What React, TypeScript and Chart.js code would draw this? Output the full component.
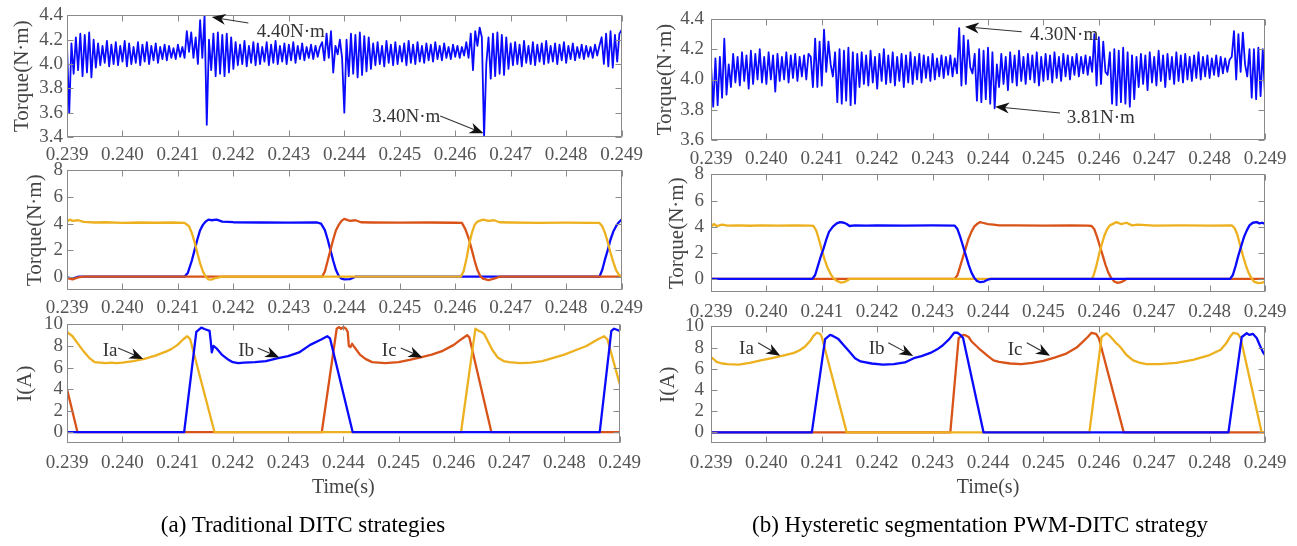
import React, { useEffect, useRef } from 'react';
import { Chart, registerables } from 'chart.js';

Chart.register(...registerables);

// ---------------- data ----------------
const xTicks = [0.239, 0.24, 0.241, 0.242, 0.243, 0.244, 0.245, 0.246, 0.247, 0.248, 0.249];
const torqueTicksA = [3.4, 3.6, 3.8, 4.0, 4.2, 4.4];
const torqueTicksB = [3.6, 3.8, 4.0, 4.2, 4.4];
const phaseTicks = [0, 2, 4, 6, 8];
const currentTicks = [0, 2, 4, 6, 8, 10];

// total torque samples (one every rippleStep seconds from rippleStart)
const rippleStart = 0.239;
const rippleStep = 0.00004;

const rippleA = [
  4.15, 3.60, 4.17, 3.92, 4.22, 3.95, 4.25, 3.90, 4.24, 3.93, 4.26, 3.89, 4.20, 3.97,
  4.17, 3.99, 4.15, 4.01, 4.19, 3.98, 4.16, 4.00, 4.18, 3.99,
  4.15, 4.02, 4.19, 3.98, 4.17, 4.00, 4.14, 4.01, 4.18, 3.99,
  4.16, 4.02, 4.18, 4.00, 4.15, 4.03, 4.17, 4.01, 4.14, 4.04,
  4.16, 4.03, 4.15, 4.05, 4.13, 4.04, 4.16, 4.06, 4.14,
  4.05, 4.27, 4.10, 4.26, 4.05, 4.22, 4.00, 4.36, 4.05, 4.40, 3.50,
  4.20, 3.95, 4.25, 3.90, 4.26, 3.92, 4.24, 3.90, 4.25, 3.93, 4.22, 3.96,
  4.18, 3.99, 4.16, 4.00, 4.19, 3.98, 4.15, 4.01, 4.18, 3.99,
  4.17, 4.00, 4.14, 4.02, 4.18, 3.99, 4.16, 4.01, 4.19, 4.00,
  4.15, 4.02, 4.17, 4.00, 4.16, 4.03, 4.18, 4.01, 4.15, 4.04,
  4.17, 4.03, 4.14, 4.05, 4.16, 4.04, 4.15, 4.06, 4.14,
  4.18, 4.03, 4.25, 4.05, 4.27, 3.93, 4.15, 4.08, 4.20, 4.05, 3.60, 4.20, 3.90, 4.25, 3.92, 4.24, 3.89, 4.26, 3.91, 4.23, 3.94, 4.22, 3.96,
  4.17, 3.99, 4.18, 4.00, 4.15, 3.98, 4.19, 4.01, 4.16, 3.99,
  4.18, 4.00, 4.15, 4.02, 4.17, 3.99, 4.19, 4.01, 4.16, 4.00,
  4.18, 4.02, 4.15, 4.01, 4.17, 4.03, 4.16, 4.02, 4.18, 4.04,
  4.15, 4.03, 4.17, 4.05, 4.14, 4.04, 4.16, 4.06, 4.15, 4.05,
  4.14, 4.07,
  4.18, 4.05, 4.25, 3.95, 4.27, 4.15, 4.30, 4.22, 3.40, 4.00, 4.22, 3.88, 4.25, 3.90, 4.26, 3.92, 4.24, 3.91, 4.22,
  3.96, 4.17, 3.99, 4.18, 4.00, 4.16, 3.98, 4.19, 4.01, 4.15,
  4.00, 4.18, 3.99, 4.16, 4.02, 4.17, 4.00, 4.19, 4.01, 4.15,
  4.02, 4.17, 4.00, 4.16, 4.03, 4.18, 4.01, 4.15, 4.04, 4.17,
  4.03, 4.14, 4.05, 4.16, 4.04, 4.15, 4.06, 4.14, 4.05, 4.16,
  4.07, 4.15,
  4.22, 4.00, 4.25, 3.98, 4.27, 3.97, 4.24, 4.02, 4.25, 4.28,
];

const rippleB = [
  4.10, 3.82, 4.14, 3.83, 4.15, 3.88, 4.27, 3.90,
  4.10, 3.95, 4.17, 3.98, 4.15, 3.96, 4.18, 3.99, 4.16, 3.94,
  4.19, 3.97, 4.17, 4.00, 4.20, 3.98, 4.15, 3.97, 4.18, 4.00,
  4.16, 3.92, 4.17, 3.99, 4.15, 4.00, 4.18, 3.98, 4.16, 4.01,
  4.17, 3.99, 4.15, 4.02, 4.16, 4.00, 4.17,
  4.15, 3.95, 4.27, 3.95, 4.25, 3.96, 4.33, 4.05, 4.25, 4.10, 4.02, 4.18, 3.85, 4.20, 3.84, 4.19, 3.86, 4.21, 3.83, 4.18, 3.84, 4.17,
  3.95, 4.18, 3.97, 4.16, 3.96, 4.19, 3.98, 4.15, 3.94, 4.17,
  3.99, 4.20, 3.97, 4.16, 3.98, 4.18, 3.96, 4.15, 3.99, 4.17,
  3.95, 4.16, 3.98, 4.18, 3.97, 4.15, 4.00, 4.17, 3.98, 4.16,
  4.01, 4.15, 3.99, 4.17, 4.00, 4.14, 4.02, 4.16, 4.01, 4.15,
  4.03, 4.16, 4.02, 4.14, 4.04,
  4.34, 3.96, 4.29, 3.97, 4.26, 4.08, 4.04, 4.17, 3.86, 4.20, 3.85, 4.19, 3.87, 4.21, 3.84, 4.18, 3.81,
  4.10, 3.95, 4.17, 3.97, 4.15, 3.93, 4.18, 3.98, 4.16, 3.96,
  4.19, 3.99, 4.15, 3.97, 4.17, 4.00, 4.16, 3.98, 4.18, 3.96,
  4.15, 3.99, 4.17, 4.00, 4.16, 3.98, 4.18, 4.01, 4.15, 3.99,
  4.17, 4.02, 4.16, 4.00, 4.15, 4.03, 4.17, 4.02, 4.15, 4.04,
  4.16, 4.03, 4.15, 4.05,
  4.30, 3.96, 4.28, 3.97, 4.25, 4.05, 4.03, 4.18, 3.84, 4.20, 3.83, 4.19, 3.85, 4.21, 3.84, 4.18, 3.82, 4.16, 3.87, 4.15,
  3.95, 4.17, 3.97, 4.16, 3.93, 4.18, 3.98, 4.15, 3.96, 4.19,
  3.99, 4.16, 3.95, 4.17, 4.00, 4.15, 3.97, 4.18, 3.99, 4.16,
  3.98, 4.17, 4.00, 4.15, 3.99, 4.16, 4.01, 4.18, 4.00, 4.15,
  4.02, 4.16, 4.01, 4.14, 4.03, 4.16, 4.02, 4.15, 4.04, 4.14,
  4.05, 4.13,
  4.15, 4.32, 4.00, 4.30, 4.05, 4.31, 4.10, 4.02, 4.20, 3.88, 4.20, 3.87, 4.21, 3.89, 4.20, 3.90,
];

// phase torques, (a) traditional DITC  [time, torque]
const phaseA_Ta: number[][] = [
  [0.239, 4.15], [0.23905, 4.3], [0.2391, 4.2], [0.2392, 4.25], [0.2393, 4.12], [0.2395, 4.08], [0.2397, 4.1],
  [0.24, 4.05], [0.2403, 4.08], [0.2406, 4.06], [0.2409, 4.08], [0.24112, 4.05], [0.2412, 3.8], [0.24125, 3.3],
  [0.2413, 2.6], [0.24135, 1.8], [0.2414, 1.0], [0.24145, 0.4], [0.2415, 0.0], [0.24155, -0.2], [0.2416, -0.22],
  [0.24168, -0.1], [0.2418, 0], [0.2461, 0], [0.24615, 0.4], [0.2462, 1.3], [0.24625, 2.4], [0.2463, 3.3],
  [0.24635, 3.9], [0.2464, 4.15], [0.2465, 4.3], [0.2466, 4.2], [0.2467, 4.25], [0.2468, 4.1], [0.247, 4.08],
  [0.2475, 4.05], [0.248, 4.07], [0.2484, 4.05], [0.2486, 4.05], [0.24865, 3.8], [0.2487, 3.3], [0.24875, 2.6],
  [0.2488, 1.8], [0.24885, 1.1], [0.2489, 0.5], [0.24895, 0.15], [0.249, 0],
];
const phaseA_Tb: number[][] = [
  [0.239, -0.05], [0.2391, -0.15], [0.2392, 0], [0.24112, 0], [0.24118, 0.3], [0.24125, 1.2], [0.2413, 2.0],
  [0.24135, 2.8], [0.2414, 3.5], [0.24145, 3.9], [0.2415, 4.15], [0.24155, 4.3], [0.2416, 4.25], [0.2417, 4.3],
  [0.2418, 4.15], [0.242, 4.1], [0.2425, 4.08], [0.243, 4.07], [0.2435, 4.08], [0.24358, 4.0], [0.24365, 3.5],
  [0.2437, 2.8], [0.24375, 2.0], [0.2438, 1.2], [0.24385, 0.5], [0.2439, 0.05], [0.24395, -0.15], [0.244, -0.2],
  [0.2441, -0.18], [0.2442, 0], [0.2486, 0], [0.24865, 0.5], [0.2487, 1.3], [0.24875, 2.0], [0.2488, 2.8],
  [0.24885, 3.4], [0.2489, 3.8], [0.24895, 4.1], [0.249, 4.3],
];
const phaseA_Tc: number[][] = [
  [0.239, -0.1], [0.2391, -0.2], [0.2392, -0.05], [0.2393, 0], [0.2436, 0], [0.24365, 0.4], [0.2437, 1.2],
  [0.24375, 2.0], [0.2438, 2.8], [0.24385, 3.5], [0.2439, 3.9], [0.24395, 4.2], [0.244, 4.35], [0.2441, 4.2],
  [0.2442, 4.25], [0.2443, 4.1], [0.2445, 4.08], [0.245, 4.07], [0.2455, 4.08], [0.246, 4.06], [0.24612, 4.05],
  [0.24618, 3.6], [0.24625, 2.8], [0.2463, 2.0], [0.24635, 1.2], [0.2464, 0.5], [0.24645, 0.05], [0.2465, -0.15],
  [0.2466, -0.25], [0.2467, -0.15], [0.2468, 0], [0.249, 0],
];

// phase torques, (b) PWM-DITC
const phaseB_Ta: number[][] = [
  [0.239, 4.0], [0.23905, 4.2], [0.2391, 4.05], [0.2392, 4.15], [0.2393, 4.08], [0.2395, 4.1], [0.2397, 4.07],
  [0.2399, 4.1], [0.2402, 4.08], [0.2405, 4.1], [0.2408, 4.08], [0.24085, 4.05], [0.2409, 3.7], [0.24095, 3.0],
  [0.241, 2.2], [0.24105, 1.5], [0.2411, 0.9], [0.24115, 0.45], [0.2412, 0.1], [0.24127, -0.15], [0.24135, -0.28],
  [0.2414, -0.25], [0.24147, -0.1], [0.2415, 0], [0.24587, 0], [0.2459, 0.2], [0.24595, 0.9], [0.246, 1.8],
  [0.24605, 2.6], [0.2461, 3.3], [0.24615, 3.8], [0.2462, 4.1], [0.24632, 4.35], [0.2464, 4.2], [0.2465, 4.3],
  [0.2466, 4.1], [0.2467, 4.15], [0.247, 4.08], [0.2475, 4.1], [0.248, 4.08], [0.2484, 4.1], [0.24845, 3.9],
  [0.2485, 3.4], [0.24855, 2.6], [0.2486, 1.8], [0.24865, 1.1], [0.2487, 0.5], [0.24875, 0.1], [0.2488, -0.2],
  [0.24888, -0.32], [0.24895, -0.28], [0.249, -0.2],
];
const phaseB_Tb: number[][] = [
  [0.239, 0], [0.24083, 0], [0.24088, 0.3], [0.24093, 1.0], [0.24098, 1.7], [0.24103, 2.3], [0.24108, 3.0],
  [0.24113, 3.6], [0.2412, 4.0], [0.24127, 4.25], [0.24133, 4.35], [0.2414, 4.3], [0.24145, 4.2], [0.2415, 4.05],
  [0.2416, 4.1], [0.2418, 4.08], [0.242, 4.1], [0.2425, 4.08], [0.243, 4.1], [0.2434, 4.08], [0.24345, 3.8],
  [0.2435, 3.2], [0.24355, 2.5], [0.2436, 1.8], [0.24365, 1.1], [0.2437, 0.5], [0.24375, 0.1], [0.2438, -0.15],
  [0.24386, -0.25], [0.24393, -0.2], [0.244, -0.05], [0.24405, 0], [0.24837, 0], [0.24842, 0.3], [0.24847, 1.0],
  [0.24852, 1.8], [0.24857, 2.5], [0.24862, 3.2], [0.24867, 3.7], [0.24872, 4.1], [0.24878, 4.3], [0.24885, 4.35],
  [0.2489, 4.25], [0.24895, 4.3], [0.249, 4.2],
];
const phaseB_Tc: number[][] = [
  [0.239, 0], [0.2434, 0], [0.24345, 0.3], [0.2435, 1.0], [0.24355, 1.7], [0.2436, 2.4], [0.24365, 3.1],
  [0.2437, 3.6], [0.24375, 4.0], [0.2438, 4.2], [0.24386, 4.35], [0.2439, 4.3], [0.244, 4.2], [0.2441, 4.15],
  [0.2442, 4.1], [0.2445, 4.1], [0.245, 4.08], [0.2455, 4.1], [0.2458, 4.08], [0.24587, 4.05], [0.24592, 3.8],
  [0.24597, 3.2], [0.24602, 2.5], [0.24607, 1.8], [0.24612, 1.1], [0.24617, 0.5], [0.24622, 0.1], [0.24628, -0.2],
  [0.24634, -0.3], [0.2464, -0.25], [0.24647, -0.1], [0.2465, 0], [0.249, 0],
];

// phase currents, (a)
const currentA_Ia: number[][] = [
  [0.239, 9.3], [0.2391, 8.9], [0.2392, 8.2], [0.2393, 7.5], [0.2394, 6.9], [0.2395, 6.5], [0.2396, 6.45],
  [0.2397, 6.4], [0.2398, 6.45], [0.2399, 6.4], [0.24, 6.45], [0.2402, 6.6], [0.2404, 6.8], [0.2406, 7.1],
  [0.2408, 7.5], [0.2409, 7.75], [0.241, 8.1], [0.2411, 8.6], [0.24117, 8.9], [0.2412, 8.8], [0.24123, 8.6],
  [0.24167, 0], [0.24613, 0], [0.24639, 9.6], [0.24645, 9.4], [0.2465, 9.3], [0.24655, 9.1], [0.2466, 8.6],
  [0.2467, 7.6], [0.2468, 6.9], [0.2469, 6.6], [0.247, 6.5], [0.2472, 6.4], [0.2474, 6.45], [0.2476, 6.6],
  [0.2478, 6.9], [0.248, 7.2], [0.2482, 7.6], [0.2484, 8.0], [0.2486, 8.6], [0.24872, 8.9], [0.24878, 8.6],
  [0.249, 4.5],
];
const currentA_Ib: number[][] = [
  [0.239, 0], [0.24112, 0], [0.24134, 9.3], [0.24143, 9.7], [0.2415, 9.55], [0.24158, 9.4], [0.2416, 8.5],
  [0.24162, 7.4], [0.24165, 8.0], [0.2417, 7.8], [0.2418, 7.2], [0.2419, 6.8], [0.242, 6.5], [0.2421, 6.4],
  [0.2422, 6.45], [0.2424, 6.5], [0.2426, 6.6], [0.2428, 6.85], [0.243, 7.05], [0.2432, 7.4], [0.2434, 8.1],
  [0.2436, 8.6], [0.24371, 8.9], [0.24376, 8.7], [0.24417, 0], [0.24864, 0], [0.24885, 9.4], [0.2489, 9.6],
  [0.24895, 9.5], [0.249, 9.4],
];
const currentA_Ic: number[][] = [
  [0.239, 4.0], [0.23919, 0], [0.24361, 0], [0.24388, 9.6], [0.24392, 9.75], [0.24396, 9.6], [0.244, 9.75],
  [0.24405, 9.6], [0.24408, 9.3], [0.2441, 8.0], [0.24413, 7.9], [0.24416, 8.2], [0.2442, 7.9], [0.2443, 7.2],
  [0.2444, 6.8], [0.24452, 6.5], [0.24476, 6.4], [0.245, 6.5], [0.2452, 6.7], [0.2454, 6.95], [0.2456, 7.2],
  [0.2458, 7.55], [0.246, 8.1], [0.2461, 8.5], [0.24624, 9.0], [0.24628, 8.8], [0.24668, 0], [0.249, 0],
];

// phase currents, (b)
const currentB_Ia: number[][] = [
  [0.239, 7.1], [0.23905, 6.9], [0.2391, 6.65], [0.2392, 6.5], [0.2393, 6.45], [0.2395, 6.4], [0.2397, 6.55],
  [0.2399, 6.8], [0.2401, 7.0], [0.2403, 7.25], [0.2405, 7.5], [0.2406, 7.75], [0.2407, 8.1], [0.2408, 8.7],
  [0.24085, 9.1], [0.24091, 9.4], [0.24097, 9.3], [0.241, 9.0], [0.24145, 0], [0.24583, 0], [0.24605, 9.0],
  [0.24614, 9.35], [0.2462, 9.1], [0.2463, 8.5], [0.24638, 8.1], [0.2465, 7.3], [0.24662, 6.8], [0.24675, 6.55],
  [0.24686, 6.45], [0.2471, 6.45], [0.2474, 6.55], [0.2477, 6.85], [0.248, 7.3], [0.2482, 7.8], [0.2483, 8.4],
  [0.24838, 9.1], [0.24843, 9.4], [0.24851, 9.3], [0.24856, 8.9], [0.24894, 0], [0.249, 0],
];
const currentB_Ib: number[][] = [
  [0.239, 0], [0.24082, 0], [0.24106, 8.8], [0.24115, 9.2], [0.2412, 9.1], [0.2413, 8.8], [0.2414, 8.2],
  [0.2415, 7.6], [0.2416, 7.0], [0.2417, 6.7], [0.2419, 6.5], [0.2421, 6.4], [0.2423, 6.45], [0.2425, 6.6],
  [0.24266, 7.0], [0.2428, 7.2], [0.24296, 7.5], [0.2431, 7.9], [0.24318, 8.2], [0.2433, 8.8], [0.24339, 9.4],
  [0.24345, 9.4], [0.2435, 9.2], [0.24355, 8.9], [0.24392, 0], [0.24834, 0], [0.24858, 9.0], [0.24867, 9.35],
  [0.24872, 9.2], [0.24878, 9.3], [0.24885, 8.9], [0.2489, 8.3], [0.24897, 7.5], [0.249, 7.3],
];
const currentB_Ic: number[][] = [
  [0.239, 0], [0.24332, 0], [0.24347, 8.9], [0.24355, 9.2], [0.2436, 9.15], [0.24365, 9.0], [0.2437, 8.6],
  [0.2438, 8.1], [0.24386, 7.8], [0.244, 7.2], [0.2441, 6.8], [0.2442, 6.65], [0.2444, 6.5], [0.2446, 6.45],
  [0.2448, 6.55], [0.245, 6.75], [0.2452, 7.05], [0.2454, 7.4], [0.2456, 8.0], [0.2457, 8.5], [0.2458, 9.0],
  [0.24587, 9.4], [0.24595, 9.3], [0.246, 8.9], [0.24645, 0], [0.249, 0],
];

// annotation texts and anchor points (data coordinates)
const torqueNotesA = [
  { text: '4.40N·m', tx: 0.24242, ty: 4.263, align: 'left', fx: 0.24227, fy: 4.337, px: 0.24161, py: 4.386 },
  { text: '3.40N·m', tx: 0.24573, ty: 3.566, align: 'right', fx: 0.24573, fy: 3.572, px: 0.24651, py: 3.43 },
];
const torqueNotesB = [
  { text: '4.30N·m', tx: 0.24476, ty: 4.294, align: 'left', fx: 0.24461, fy: 4.316, px: 0.243585, py: 4.349 },
  { text: '3.81N·m', tx: 0.24542, ty: 3.743, align: 'left', fx: 0.2453, fy: 3.778, px: 0.24413, py: 3.82 },
];
const currentNotesA = [
  { text: 'Ia', tx: 0.23978, ty: 7.5, align: 'center', fx: 0.239924, fy: 7.81, px: 0.24038, py: 6.8 },
  { text: 'Ib', tx: 0.24224, ty: 7.52, align: 'center', fx: 0.24245, fy: 7.81, px: 0.24284, py: 6.93 },
  { text: 'Ic', tx: 0.24483, ty: 7.5, align: 'center', fx: 0.24504, fy: 7.81, px: 0.24543, py: 6.93 },
];
const currentNotesB = [
  { text: 'Ia', tx: 0.23964, ty: 7.9, align: 'center', fx: 0.23985, fy: 8.45, px: 0.24025, py: 7.24 },
  { text: 'Ib', tx: 0.24199, ty: 7.9, align: 'center', fx: 0.2422, fy: 8.45, px: 0.24265, py: 7.2 },
  { text: 'Ic', tx: 0.24449, ty: 7.8, align: 'center', fx: 0.2447, fy: 8.45, px: 0.24512, py: 7.24 },
];

const captionA = '(a) Traditional DITC strategies';
const captionB = '(b) Hysteretic segmentation PWM-DITC strategy';

// ---------------- styles ----------------
const FONT = '"Liberation Serif", "Times New Roman", serif';
const YELLOW = '#EDB120';
const BLUE = '#0A0AFF';
const ORANGE = '#D95319';
const AXIS = '#8a8a8a';
const TICK = '#555555';
const TITLE = '#444444';
const NOTE = '#333333';

const toPts = (pairs: number[][]) => pairs.map(([x, y]) => ({ x, y }));
const ripplePts = (vals: number[]) => vals.map((y, i) => ({ x: rippleStart + i * rippleStep, y }));

type Note = { text: string; tx: number; ty: number; align: string; fx: number; fy: number; px: number; py: number };
type Panel = {
  box: { x: number; y: number; w: number; h: number };
  area: { l: number; t: number; r: number; b: number };
  yMin: number; yMax: number; yTicks: number[]; yDec: number;
  yTitle: string; yTitleX: number; yPad: number; xPad: number; xTitle: string;
  datasets: { pts: { x: number; y: number }[]; color: string; width: number }[];
  notes: Note[];
};

const panels: Panel[] = [
  {
    box: { x: 0, y: 0, w: 650, h: 168 }, area: { l: 67, t: 15, r: 622, b: 137 },
    yMin: 3.4, yMax: 4.4, yTicks: torqueTicksA, yDec: 1, yTitle: 'Torque(N·m)', yTitleX: 22, yPad: 4, xPad: 7, xTitle: '',
    datasets: [{ pts: ripplePts(rippleA), color: BLUE, width: 1.8 }], notes: torqueNotesA,
  },
  {
    box: { x: 0, y: 155, w: 650, h: 168 }, area: { l: 67, t: 169, r: 622, b: 290 },
    yMin: -1, yMax: 8, yTicks: phaseTicks, yDec: 0, yTitle: 'Torque(N·m)', yTitleX: 35, yPad: 4, xPad: 7, xTitle: '',
    datasets: [
      { pts: toPts(phaseA_Ta), color: YELLOW, width: 2.3 },
      { pts: toPts(phaseA_Tc), color: ORANGE, width: 2.3 },
      { pts: toPts(phaseA_Tb), color: BLUE, width: 2.3 },
    ], notes: [],
  },
  {
    box: { x: 0, y: 309, w: 650, h: 191 }, area: { l: 67, t: 323, r: 622, b: 443 },
    yMin: -1, yMax: 10, yTicks: currentTicks, yDec: 0, yTitle: 'I(A)', yTitleX: 25, yPad: 4, xPad: 9, xTitle: 'Time(s)',
    datasets: [
      { pts: toPts(currentA_Ib), color: BLUE, width: 2.3 },
      { pts: toPts(currentA_Ia), color: YELLOW, width: 2.3 },
      { pts: toPts(currentA_Ic), color: ORANGE, width: 2.3 },
    ], notes: currentNotesA,
  },
  {
    box: { x: 640, y: 0, w: 657, h: 170 }, area: { l: 711, t: 19, r: 1265, b: 140 },
    yMin: 3.6, yMax: 4.4, yTicks: torqueTicksB, yDec: 1, yTitle: 'Torque(N·m)', yTitleX: 665, yPad: 7, xPad: 8, xTitle: '',
    datasets: [{ pts: ripplePts(rippleB), color: BLUE, width: 1.8 }], notes: torqueNotesB,
  },
  {
    box: { x: 640, y: 156, w: 657, h: 168 }, area: { l: 711, t: 170, r: 1265, b: 292 },
    yMin: -1, yMax: 8, yTicks: phaseTicks, yDec: 0, yTitle: 'Torque(N·m)', yTitleX: 677, yPad: 7, xPad: 9, xTitle: '',
    datasets: [
      { pts: toPts(phaseB_Tb), color: BLUE, width: 2.3 },
      { pts: toPts(phaseB_Ta), color: YELLOW, width: 2.3 },
      { pts: toPts(phaseB_Tc), color: ORANGE, width: 2.3 },
    ], notes: [],
  },
  {
    box: { x: 640, y: 308, w: 657, h: 192 }, area: { l: 711, t: 322, r: 1265, b: 443 },
    yMin: -1, yMax: 10, yTicks: currentTicks, yDec: 0, yTitle: 'I(A)', yTitleX: 668, yPad: 7, xPad: 9, xTitle: 'Time(s)',
    datasets: [
      { pts: toPts(currentB_Ib), color: BLUE, width: 2.3 },
      { pts: toPts(currentB_Ia), color: YELLOW, width: 2.3 },
      { pts: toPts(currentB_Ic), color: ORANGE, width: 2.3 },
    ], notes: currentNotesB,
  },
];

function makeBoxPlugin(notes: Note[]) {
  return {
    id: 'boxAndNotes',
    afterDraw(chart: any) {
      const { ctx, chartArea: ca } = chart;
      const xs = chart.scales.x;
      const ys = chart.scales.y;
      ctx.save();
      ctx.strokeStyle = AXIS;
      ctx.lineWidth = 1;
      const L = Math.round(ca.left) + 0.5;
      const R = Math.round(ca.right) - 0.5;
      const T = Math.round(ca.top) + 0.5;
      const B = Math.round(ca.bottom) - 0.5;
      ctx.strokeRect(L, T, R - L, B - T);
      ctx.beginPath();
      for (const t of xs.ticks) {
        const p = Math.round(xs.getPixelForValue(t.value)) + 0.5;
        ctx.moveTo(p, B); ctx.lineTo(p, B - 6);
        ctx.moveTo(p, T); ctx.lineTo(p, T + 6);
      }
      for (const t of ys.ticks) {
        const p = Math.round(ys.getPixelForValue(t.value)) + 0.5;
        ctx.moveTo(L, p); ctx.lineTo(L + 6, p);
        ctx.moveTo(R, p); ctx.lineTo(R - 6, p);
      }
      ctx.stroke();

      for (const n of notes) {
        const fx = xs.getPixelForValue(n.fx);
        const fy = ys.getPixelForValue(n.fy);
        const px = xs.getPixelForValue(n.px);
        const py = ys.getPixelForValue(n.py);
        const ang = Math.atan2(py - fy, px - fx);
        const c = Math.cos(ang), s = Math.sin(ang);
        const headLen = 14, headW = 5.5;
        const bx = px - headLen * c, by = py - headLen * s;
        const nx = -s, ny = c;
        ctx.strokeStyle = NOTE;
        ctx.fillStyle = '#111111';
        ctx.lineWidth = 1.1;
        ctx.beginPath();
        ctx.moveTo(fx, fy);
        ctx.lineTo(px - headLen * 0.6 * c, py - headLen * 0.6 * s);
        ctx.stroke();
        ctx.beginPath();
        ctx.moveTo(px, py);
        ctx.lineTo(bx + nx * headW, by + ny * headW);
        ctx.lineTo(px - headLen * 0.7 * c, py - headLen * 0.7 * s);
        ctx.lineTo(bx - nx * headW, by - ny * headW);
        ctx.closePath();
        ctx.fill();
        ctx.fillStyle = NOTE;
        ctx.font = `19px ${FONT}`;
        ctx.textAlign = n.align as CanvasTextAlign;
        ctx.textBaseline = 'middle';
        ctx.fillText(n.text, xs.getPixelForValue(n.tx), ys.getPixelForValue(n.ty));
      }
      ctx.restore();
    },
  };
}

function PanelChart({ cfg }: { cfg: Panel }) {
  const ref = useRef<HTMLCanvasElement>(null);
  useEffect(() => {
    const c = cfg;
    const titleHalf = 21 * 1.2 / 2;
    const chart = new Chart(ref.current as HTMLCanvasElement, {
      type: 'line',
      data: {
        datasets: c.datasets.map((d) => ({
          data: d.pts,
          borderColor: d.color,
          backgroundColor: d.color,
          borderWidth: d.width,
          pointRadius: 0,
          tension: 0,
          fill: false,
          borderJoinStyle: 'round',
          borderCapStyle: 'round',
        })),
      } as any,
      options: {
        animation: false,
        responsive: false,
        events: [],
        parsing: false,
        layout: {
          padding: { left: 0, top: c.area.t - c.box.y, right: c.box.x + c.box.w - c.area.r, bottom: 0 },
        },
        plugins: { legend: { display: false }, tooltip: { enabled: false } },
        scales: {
          x: {
            type: 'linear',
            min: 0.239,
            max: 0.249,
            afterBuildTicks: (s: any) => { s.ticks = xTicks.map((v) => ({ value: v })); },
            afterFit: (s: any) => { s.height = c.box.y + c.box.h - c.area.b; },
            grid: { display: false, drawTicks: false },
            border: { display: false },
            ticks: {
              autoSkip: false, maxRotation: 0, minRotation: 0, padding: c.xPad, color: TICK,
              font: { family: FONT, size: 19 },
              callback: (v: any) => Number(v).toFixed(3),
            },
            title: {
              display: !!c.xTitle, text: c.xTitle, color: TITLE,
              font: { family: FONT, size: 20 }, padding: { top: 0, bottom: 0 },
            },
          },
          y: {
            type: 'linear',
            min: c.yMin,
            max: c.yMax,
            afterBuildTicks: (s: any) => { s.ticks = c.yTicks.map((v) => ({ value: v })); },
            afterFit: (s: any) => { s.width = c.area.l - c.box.x; },
            grid: { display: false, drawTicks: false },
            border: { display: false },
            ticks: {
              autoSkip: false, padding: c.yPad, color: TICK,
              font: { family: FONT, size: 19 },
              callback: (v: any) => Number(v).toFixed(c.yDec),
            },
            title: {
              display: true, text: c.yTitle, color: TITLE,
              font: { family: FONT, size: 21 },
              padding: { top: c.yTitleX - c.box.x - titleHalf, bottom: 0 },
            },
          },
        },
      } as any,
      plugins: [makeBoxPlugin(c.notes)],
    });
    return () => chart.destroy();
  }, [cfg]);
  return (
    <canvas
      ref={ref}
      width={cfg.box.w}
      height={cfg.box.h}
      style={{ position: 'absolute', left: cfg.box.x, top: cfg.box.y, width: cfg.box.w, height: cfg.box.h }}
    />
  );
}

export default function App() {
  const capStyle: React.CSSProperties = {
    position: 'absolute', top: 510, height: 30, lineHeight: '30px', textAlign: 'center',
    fontFamily: FONT, fontSize: 23, color: '#000', whiteSpace: 'nowrap',
  };
  return (
    <div style={{ position: 'absolute', left: 0, top: 0, width: 1297, height: 546, background: '#fff', overflow: 'hidden' }}>
      {panels.map((p, i) => <PanelChart key={i} cfg={p} />)}
      <div style={{ ...capStyle, left: 3, width: 600 }}>{captionA}</div>
      <div style={{ ...capStyle, left: 680, width: 600 }}>{captionB}</div>
    </div>
  );
}
